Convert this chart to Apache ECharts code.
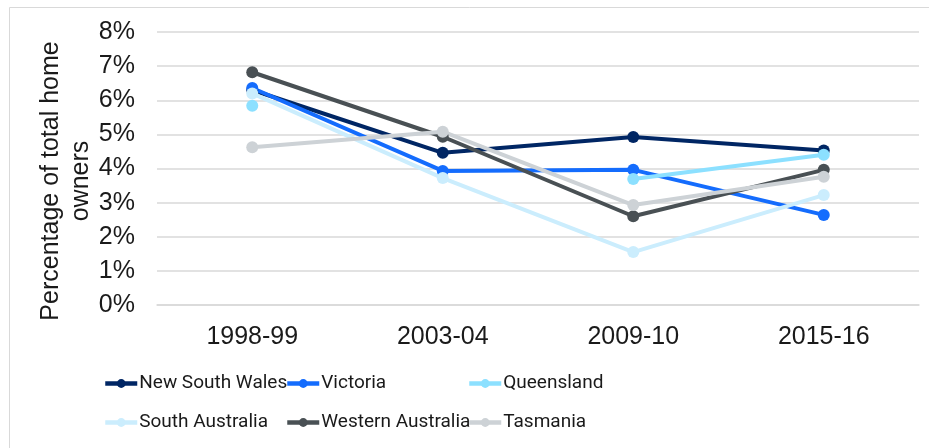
<!DOCTYPE html>
<html>
<head>
<meta charset="utf-8">
<script src="https://cdn.jsdelivr.net/npm/echarts@6/dist/echarts.min.js"></script>
<style>
  html, body { margin: 0; padding: 0; background: #fff; }
  #chart { width: 929px; height: 448px; }
</style>
</head>
<body>
<div id="chart"></div>
<script>
// Survey periods on the category axis
const periods = ['1998-99', '2003-04', '2009-10', '2015-16'];

// Share of total home owners (%) by state
const newSouthWales    = [6.30, 4.46, 4.92, 4.53];
const victoria         = [6.36, 3.93, 3.96, 2.64];
const queensland       = [5.84, null, 3.69, 4.40];
const southAustralia   = [6.20, 3.72, 1.55, 3.22];
const westernAustralia = [6.82, 4.93, 2.60, 3.96];
const tasmania         = [4.62, 5.08, 2.93, 3.76];

// Y axis tick range (%)
const yMin = 0, yMax = 8, yStep = 1;

const stateNames = ['New South Wales', 'Victoria', 'Queensland',
                    'South Australia', 'Western Australia', 'Tasmania'];
const stateValues = [newSouthWales, victoria, queensland,
                     southAustralia, westernAustralia, tasmania];
const stateColors = ['#002664', '#146CFD', '#8CE0FF',
                     '#CBEDFD', '#495054', '#CDD2D6'];

const axisFont = '"Liberation Sans", Arial, sans-serif';
const legendFont = 'Roboto, "Liberation Sans", sans-serif';

const chart = echarts.init(document.getElementById('chart'), null, { renderer: 'canvas' });

// One legend per entry, laid out in two rows of three
const legendSlots = [
  { left: 103, top: 374 }, { left: 285, top: 374 }, { left: 467, top: 374 },
  { left: 103, top: 413 }, { left: 285, top: 413 }, { left: 467, top: 413 }
];

const option = {
  backgroundColor: '#ffffff',
  animation: false,
  graphic: [
    {
      type: 'rect',
      shape: { x: 9.5, y: 7.5, width: 940, height: 460 },
      style: { fill: 'none', stroke: '#D9D9D9', lineWidth: 1 },
      silent: true, z: -1
    },
    {
      type: 'text',
      x: 66, y: 181,
      rotation: Math.PI / 2,
      style: {
        text: 'Percentage of total home\nowners',
        font: '25px ' + axisFont,
        fill: '#1a1a1a',
        align: 'center',
        verticalAlign: 'middle',
        lineHeight: 30
      }
    }
  ],
  grid: { left: 157, right: 10, top: 32, bottom: 143, containLabel: false },
  legend: stateNames.map((n, i) => ({
    data: [n],
    left: legendSlots[i].left,
    top: legendSlots[i].top,
    itemWidth: 32,
    itemHeight: 11,
    itemGap: 0,
    padding: 0,
    lineStyle: { width: 4.5 },
    textStyle: { fontFamily: legendFont, fontSize: 19, color: '#1a1a1a', padding: [0, 0, 0, -3] }
  })),
  xAxis: {
    type: 'category',
    data: periods,
    boundaryGap: true,
    axisLine: { show: true, lineStyle: { color: '#D9D9D9', width: 1.5 } },
    axisTick: { show: false },
    axisLabel: { fontFamily: axisFont, fontSize: 25, color: '#1a1a1a', margin: 20 }
  },
  yAxis: {
    type: 'value',
    min: yMin, max: yMax, interval: yStep,
    axisLine: { show: false },
    axisTick: { show: false },
    splitLine: { lineStyle: { color: '#D9D9D9', width: 1.5 } },
    axisLabel: {
      fontFamily: axisFont, fontSize: 25, color: '#1a1a1a', margin: 22,
      formatter: v => v + '%'
    }
  },
  series: stateNames.map((n, i) => ({
    name: n,
    type: 'line',
    data: stateValues[i],
    connectNulls: false,
    symbol: 'circle',
    symbolSize: 12,
    showAllSymbol: true,
    color: stateColors[i],
    lineStyle: { width: 4, color: stateColors[i] },
    itemStyle: { color: stateColors[i] },
    emphasis: { disabled: true }
  }))
};

chart.setOption(option);
</script>
</body>
</html>
